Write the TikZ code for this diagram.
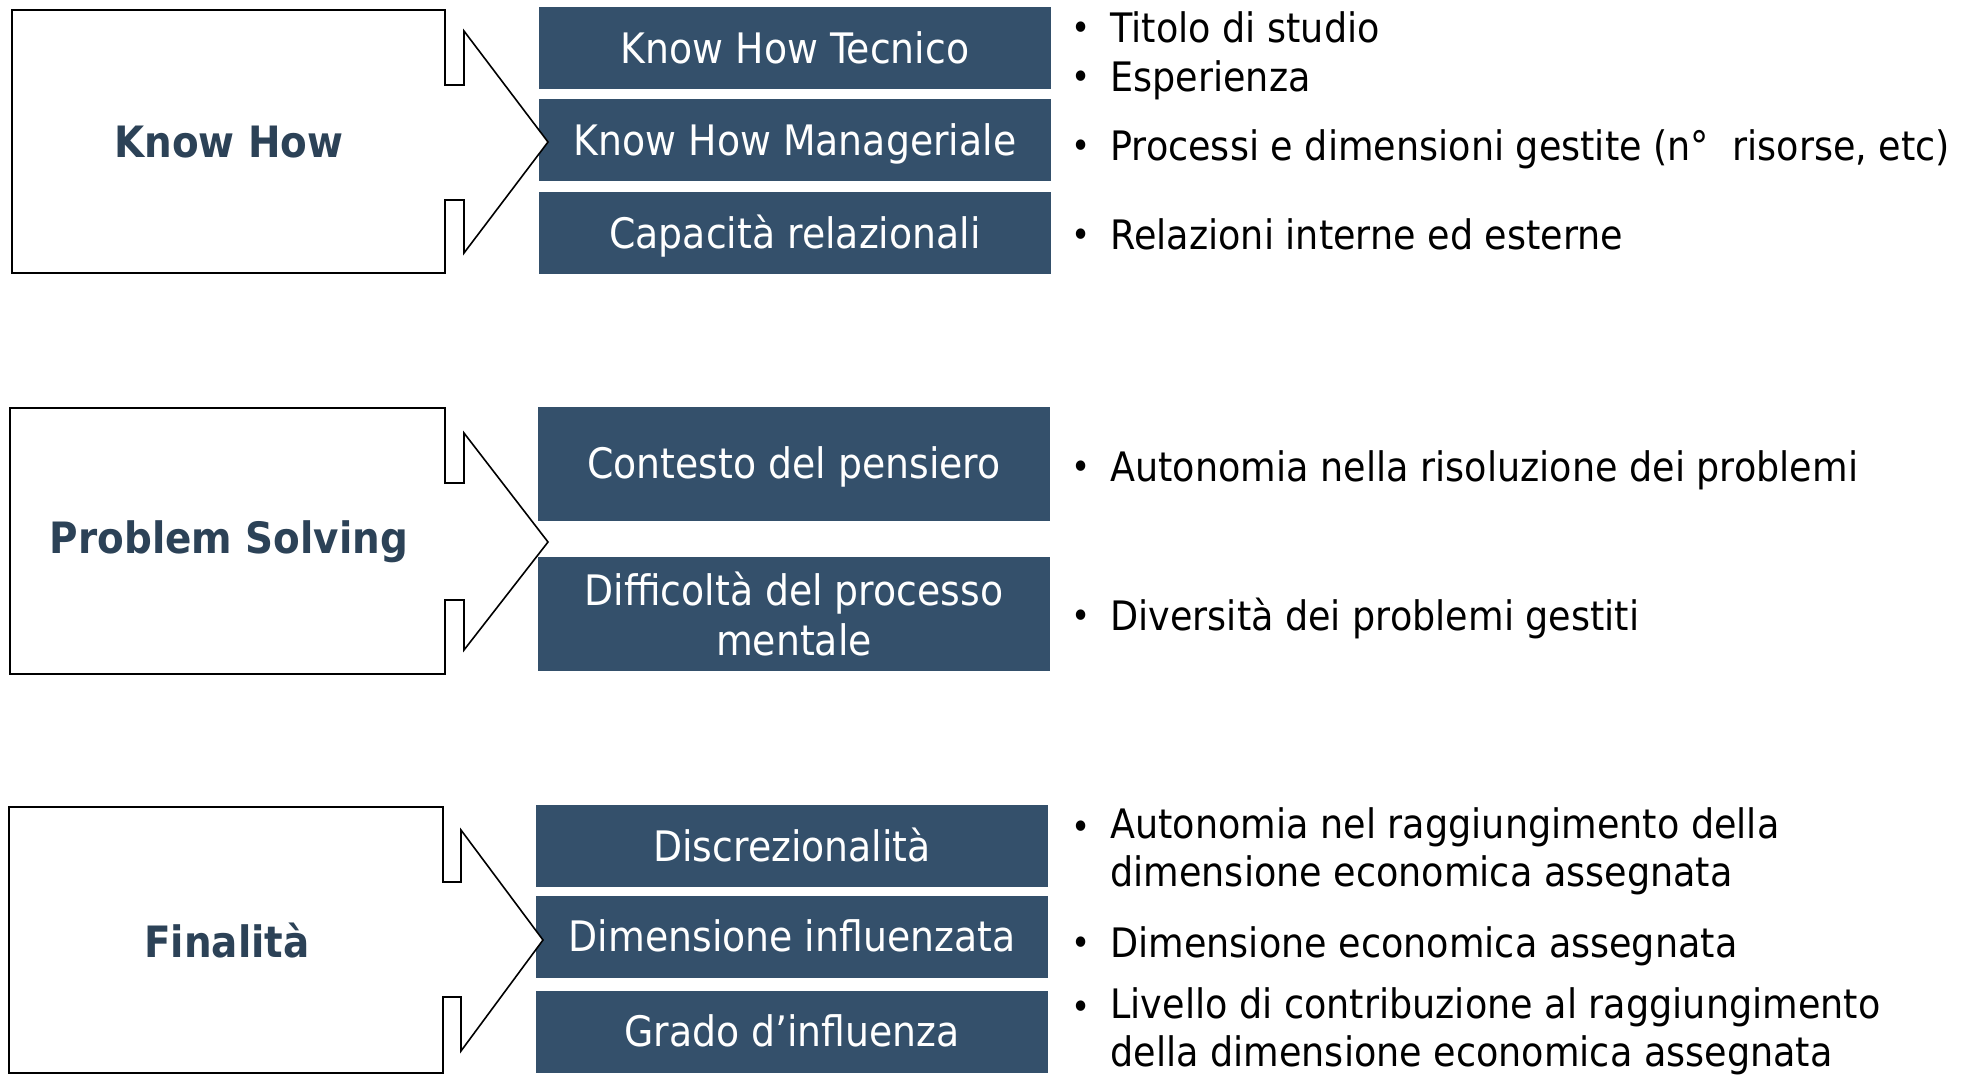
\documentclass[tikz,border=0pt]{standalone}
\usepackage{fontspec}
\setmainfont{DejaVu Sans}[FakeStretch=0.9]
\definecolor{boxc}{HTML}{34506B}
\definecolor{labc}{HTML}{2C4257}
\tikzset{
  arrowline/.style={draw=black, line width=0.8pt, fill=white},
  dbox/.style={fill=boxc, text=white, inner sep=0pt, minimum width=256pt, align=center,
               font=\fontsize{21}{25}\selectfont},
  dboxs/.style={dbox, minimum height=41pt, text height=15.3pt, text depth=0pt},
  dboxt/.style={dbox, minimum height=57pt},
  dboxu/.style={dbox, minimum height=57pt, text height=15.3pt, text depth=0pt},
  lab/.style={text=labc, font=\fontsize{21.6}{26}\selectfont\bfseries},
  itm/.style={anchor=west, inner sep=0pt, align=left, text=black,
              font=\fontsize{20.3}{23.85}\selectfont},
  itmo/.style={itm, text height=14.8pt, text depth=0pt},
  bul/.style={inner sep=0pt, text=black, yshift=-1.8pt, font=\fontsize{18}{22}\selectfont}
}
\begin{document}
\begin{tikzpicture}[x=0.5pt,y=-0.5pt]
\useasboundingbox[fill=white] (0,0) rectangle (1967,1078);

% ---- dark boxes
\node[dboxs] (b11) at (795,48) {Know How Tecnico};
\node[dboxs] (b12) at (795,140) {Know How Manageriale};
\node[dboxs] (b13) at (795,233) {Capacità relazionali};
\node[dboxu] (b21) at (794,463.5) {Contesto del pensiero};
\node[dboxt] (b22) at (794,614) {Difficoltà del processo\\mentale};
\node[dboxs] (b31) at (792,846) {Discrezionalità};
\node[dboxs] (b32) at (792,936.5) {Dimensione influenzata};
\node[dboxs] (b33) at (792,1031.5) {Grado d’influenza};

% ---- arrows (drawn over the boxes)
\draw[arrowline] (12,10) -- (445,10) -- (445,85) -- (464,85) -- (464,31) -- (548,142)
  -- (464,253) -- (464,200) -- (445,200) -- (445,273) -- (12,273) -- cycle;
\draw[arrowline] (10,408) -- (445,408) -- (445,483) -- (464,483) -- (464,433) -- (548,542)
  -- (464,650) -- (464,600) -- (445,600) -- (445,674) -- (10,674) -- cycle;
\draw[arrowline] (9,807) -- (443,807) -- (443,882) -- (461,882) -- (461,830) -- (543,940)
  -- (461,1051) -- (461,997) -- (443,997) -- (443,1073) -- (9,1073) -- cycle;

\node[lab] (l1) at (229,142) {Know How};
\node[lab] (l2) at (229,542) {Problem Solving};
\node[lab] (l3) at (227,941) {Finalità};

% ---- bullet texts
\node[bul] (p1) at (1081,28) {•};
\node[itmo] (t1) at (1110,28) {Titolo di studio};
\node[bul] (p2) at (1081,77) {•};
\node[itmo] (t2) at (1110,77) {Esperienza};
\node[bul] (p3) at (1081,146) {•};
\node[itmo] (t3) at (1110,146) {Processi e dimensioni gestite (n°\ \ risorse, etc)};
\node[bul] (p4) at (1081,235) {•};
\node[itmo] (t4) at (1110,235) {Relazioni interne ed esterne};

\node[bul] (p5) at (1081,467) {•};
\node[itmo] (t5) at (1110,467) {Autonomia nella risoluzione dei problemi};
\node[bul] (p6) at (1081,616) {•};
\node[itmo] (t6) at (1110,616) {Diversità dei problemi gestiti};

\node[bul] (p7) at (1081,827) {•};
\node[itm] (t7) at (1110,851) {Autonomia nel raggiungimento della\\dimensione economica assegnata};
\node[bul] (p8) at (1081,943) {•};
\node[itmo] (t8) at (1110,943) {Dimensione economica assegnata};
\node[bul] (p9) at (1081,1007) {•};
\node[itm] (t9) at (1110,1031) {Livello di contribuzione al raggiungimento\\della dimensione economica assegnata};
\end{tikzpicture}
\end{document}
